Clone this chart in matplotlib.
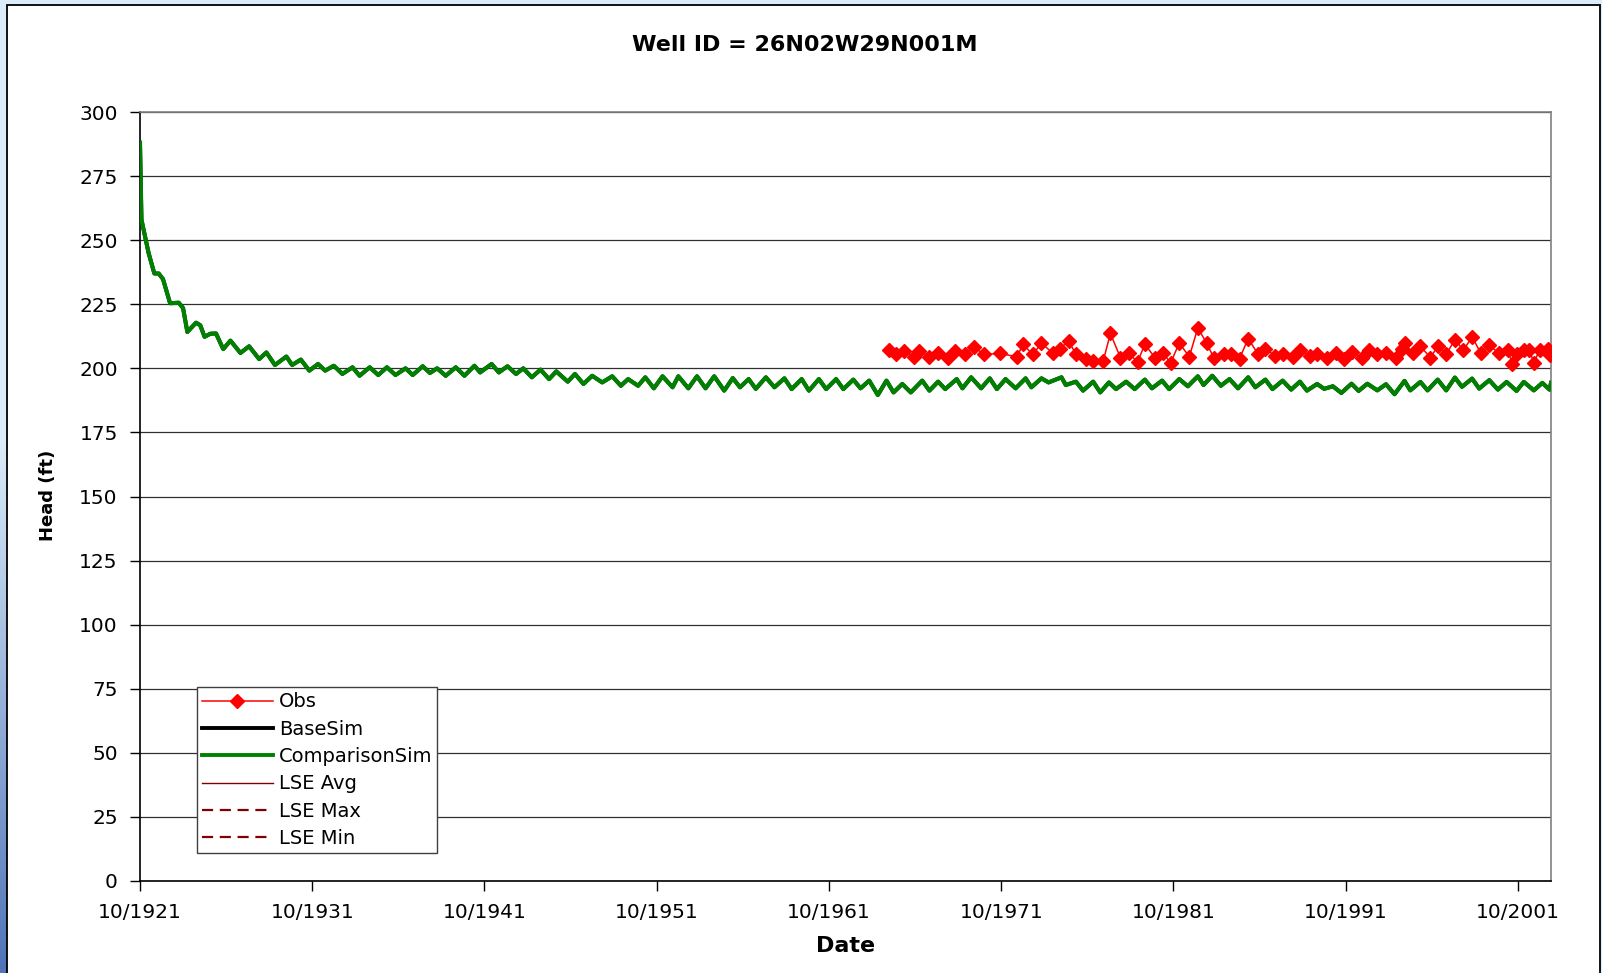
import numpy as np
import pandas as pd
import matplotlib
matplotlib.use("Agg")
import matplotlib.pyplot as plt
from matplotlib.patches import Rectangle
from matplotlib.lines import Line2D
from matplotlib.colors import LinearSegmentedColormap

# simulated head, read as seasonal highs / lows off the chart
sim_dates = [
    "1921-10", "1921-11", "1922-02", "1922-04", "1922-08", "1922-11", "1923-02", "1923-07",
    "1924-01", "1924-04", "1924-07", "1925-01", "1925-04", "1925-07", "1925-11", "1926-03",
    "1926-08", "1927-01", "1927-08", "1928-02", "1928-09", "1929-02", "1929-08", "1930-04",
    "1930-08", "1931-02", "1931-08", "1932-02", "1932-07", "1933-01", "1933-07", "1934-02",
    "1934-07", "1935-02", "1935-08", "1936-02", "1936-08", "1937-03", "1937-08", "1938-03",
    "1938-08", "1939-01", "1939-07", "1940-02", "1940-08", "1941-03", "1941-07", "1942-03",
    "1942-08", "1943-02", "1943-08", "1944-01", "1944-07", "1945-01", "1945-07", "1945-12",
    "1946-08", "1947-01", "1947-07", "1948-01", "1948-08", "1949-03", "1949-09", "1950-02",
    "1950-09", "1951-02", "1951-08", "1952-02", "1952-09", "1953-01", "1953-08", "1954-02",
    "1954-08", "1955-02", "1955-09", "1956-03", "1956-08", "1957-02", "1957-07", "1958-02",
    "1958-08", "1959-03", "1959-08", "1960-03", "1960-08", "1961-03", "1961-08", "1962-03",
    "1962-08", "1963-03", "1963-08", "1964-02", "1964-08", "1965-02", "1965-07", "1966-01",
    "1966-07", "1967-03", "1967-08", "1968-02", "1968-07", "1969-03", "1969-07", "1970-01",
    "1970-08", "1971-02", "1971-07", "1972-01", "1972-08", "1973-03", "1973-07", "1974-02",
    "1974-07", "1975-04", "1975-07", "1976-02", "1976-07", "1977-02", "1977-07", "1978-01",
    "1978-06", "1979-01", "1979-07", "1980-02", "1980-07", "1981-02", "1981-07", "1982-02",
    "1982-08", "1983-03", "1983-07", "1984-01", "1984-07", "1985-01", "1985-07", "1986-02",
    "1986-07", "1987-02", "1987-07", "1988-02", "1988-08", "1989-02", "1989-07", "1990-02",
    "1990-07", "1991-01", "1991-07", "1992-02", "1992-07", "1993-01", "1993-08", "1994-02",
    "1994-08", "1995-03", "1995-07", "1996-02", "1996-07", "1997-02", "1997-08", "1998-02",
    "1998-07", "1999-02", "1999-07", "2000-02", "2000-08", "2001-02", "2001-09", "2002-02",
    "2002-09", "2003-03", "2003-08", "2003-09",
]
comp_head = [
    288.0, 258.0, 250.0, 245.0, 237.0, 237.0, 234.8, 225.4,
    225.6, 223.5, 214.2, 217.8, 216.8, 212.3, 213.5, 213.6,
    207.5, 210.8, 206.0, 208.6, 203.6, 206.2, 201.3, 204.6,
    201.3, 203.4, 199.1, 201.7, 199.1, 201.0, 197.8, 200.4,
    197.1, 200.4, 197.4, 200.4, 197.4, 200.0, 197.4, 200.8,
    198.2, 200.0, 197.1, 200.4, 197.1, 201.0, 198.4, 201.7,
    198.4, 200.8, 197.8, 200.0, 196.5, 199.5, 195.8, 198.8,
    194.8, 197.8, 193.9, 197.1, 194.5, 196.9, 193.2, 195.8,
    193.2, 196.5, 192.2, 196.9, 192.6, 196.9, 192.2, 196.9,
    192.2, 196.9, 191.3, 196.2, 192.6, 195.8, 192.0, 196.5,
    192.6, 196.1, 191.9, 195.8, 191.3, 195.8, 191.9, 195.8,
    191.9, 195.6, 192.2, 195.2, 189.6, 195.2, 190.6, 193.9,
    190.6, 195.2, 191.3, 194.8, 191.9, 195.8, 192.2, 196.5,
    192.2, 196.1, 191.9, 195.8, 192.2, 196.1, 192.6, 196.1,
    194.5, 196.5, 193.5, 194.8, 191.3, 194.8, 190.6, 194.5,
    191.9, 194.8, 191.9, 195.6, 192.2, 195.2, 191.9, 195.8,
    193.0, 196.9, 193.5, 197.1, 193.2, 195.8, 192.2, 196.5,
    192.6, 195.6, 191.9, 195.2, 191.7, 194.8, 191.3, 193.9,
    192.0, 193.0, 190.4, 194.0, 191.2, 194.0, 191.4, 193.8,
    189.9, 195.1, 191.4, 194.7, 191.4, 195.6, 191.4, 196.4,
    192.8, 196.0, 192.1, 195.4, 191.7, 194.7, 191.2, 194.7,
    191.4, 194.3, 191.7, 194.3,
]
# base run sits right under the comparison run on this well
base_head = comp_head

obs_dates = [
    "1965-04", "1965-09", "1966-02", "1966-09", "1967-01", "1967-08", "1968-02", "1968-09",
    "1969-02", "1969-09", "1970-03", "1970-10", "1971-09", "1972-09", "1973-01", "1973-08",
    "1974-02", "1974-10", "1975-03", "1975-09", "1976-02", "1976-09", "1977-02", "1977-09",
    "1978-02", "1978-09", "1979-03", "1979-09", "1980-02", "1980-09", "1981-03", "1981-08",
    "1982-02", "1982-09", "1983-03", "1983-09", "1984-02", "1984-09", "1985-02", "1985-08",
    "1986-02", "1986-09", "1987-02", "1987-09", "1988-02", "1988-09", "1989-02", "1989-09",
    "1990-02", "1990-09", "1991-03", "1991-09", "1992-02", "1992-09", "1993-02", "1993-08",
    "1994-02", "1994-09", "1995-01", "1995-03", "1995-09", "1996-02", "1996-09", "1997-02",
    "1997-08", "1998-02", "1998-08", "1999-02", "1999-08", "2000-02", "2000-09", "2001-03",
    "2001-06", "2001-09", "2002-02", "2002-06", "2002-09", "2003-01", "2003-07", "2003-08",
]
obs_head = [
    207.3, 205.5, 206.8, 204.5, 206.8, 204.5, 205.8, 204.1,
    206.8, 205.4, 208.4, 205.4, 205.8, 204.5, 209.4, 205.4,
    209.9, 205.8, 207.7, 210.7, 205.4, 203.8, 202.8, 202.8,
    213.6, 204.2, 205.8, 202.5, 209.4, 204.2, 205.8, 202.1,
    209.9, 204.5, 215.8, 209.9, 204.2, 205.5, 205.5, 203.8,
    211.6, 205.5, 207.7, 204.7, 205.5, 204.5, 207.3, 204.9,
    205.5, 204.2, 206.0, 203.8, 206.4, 204.2, 207.1, 205.5,
    206.0, 204.2, 207.7, 209.9, 205.8, 208.6, 204.2, 208.6,
    205.5, 211.2, 207.1, 212.3, 206.0, 209.0, 205.8, 207.3,
    201.6, 205.5, 207.1, 207.1, 202.1, 207.1, 207.7, 205.1,
]

tick_years = [1921, 1931, 1941, 1951, 1961, 1971, 1981, 1991, 2001]
y_ticks = [0, 25, 50, 75, 100, 125, 150, 175, 200, 225, 250, 275, 300]

W, H = 1602, 973
plt.rcParams['font.family'] = ['DejaVu Sans']

fig = plt.figure(figsize=(W / 100, H / 100), dpi=100, facecolor='#dcedf9')

# slide-like blue strip on the left edge
strip = fig.add_axes([0, 0, 7 / W, 1], zorder=-3)
grad = np.ones((200, 1))
grad[:, 0] = np.clip((np.linspace(0, 1, 200) - 0.45) / 0.55, 0, 1)
cmap = LinearSegmentedColormap.from_list('bl', ['#dcedf9', '#4f74b8'])
strip.imshow(grad, aspect='auto', cmap=cmap, extent=[0, 1, 0, 1])
strip.axis('off')

# white chart area with black border
fig.add_artist(Rectangle((7 / W, -0.05), 1593 / W, 1.05 - 5 / H, transform=fig.transFigure,
                         facecolor='white', edgecolor='black', lw=1.3, zorder=-2))

ax = fig.add_axes([140 / W, 1 - 881 / H, 1411 / W, 769 / H])
ax.set_facecolor('white')

sim_x = pd.to_datetime(sim_dates)
obs_x = pd.to_datetime(obs_dates)

ax.plot(sim_x, base_head, color='black', lw=2.8, zorder=3)
ax.plot(sim_x, comp_head, color='#008000', lw=3.0, zorder=4)
ax.plot(obs_x, obs_head, color='#ff0000', lw=1.1, marker='D', ms=7, mec='#ff0000', zorder=5)

ax.set_xlim(pd.Timestamp('1921-10-01'), pd.Timestamp('2003-09-01'))
ax.set_ylim(0, 300)
ax.set_yticks(y_ticks)
ax.set_xticks([pd.Timestamp(f'{y}-10-01') for y in tick_years])
ax.set_xticklabels([f'10/{y}' for y in tick_years])
ax.yaxis.grid(True, color='#303030', lw=0.9)
ax.set_axisbelow(True)

for s in ['top', 'right']:
    ax.spines[s].set_color('#808080')
    ax.spines[s].set_linewidth(1.2)
for s in ['left', 'bottom']:
    ax.spines[s].set_color('black')
    ax.spines[s].set_linewidth(1.2)
ax.tick_params(axis='both', direction='out', length=7, width=1, color='black', labelsize=14.5)
ax.tick_params(axis='y', pad=9)
ax.tick_params(axis='x', pad=9)

handles = [
    Line2D([], [], color='#ff0000', lw=1.1, marker='D', ms=7),
    Line2D([], [], color='black', lw=2.8),
    Line2D([], [], color='#008000', lw=2.8),
    Line2D([], [], color='#800000', lw=1),
    Line2D([], [], color='#800000', lw=1.6, dashes=(5, 3)),
    Line2D([], [], color='#800000', lw=1.6, dashes=(5, 3)),
]
labels = ['Obs', 'BaseSim', 'ComparisonSim', 'LSE Avg', 'LSE Max', 'LSE Min']
leg = ax.legend(handles, labels, loc='lower left', bbox_to_anchor=(57 / 1411, 28 / 769),
                borderaxespad=0, fontsize=14, handlelength=3.66, handletextpad=0.3,
                labelspacing=0.43, borderpad=0.25, numpoints=1, fancybox=False,
                framealpha=1, edgecolor='#404040')
leg.get_frame().set_linewidth(1.0)

fig.text(805 / W, 1 - 45 / H, 'Well ID = 26N02W29N001M', ha='center', va='center',
         fontsize=16, fontweight='bold')
fig.text(846 / W, 1 - 946 / H, 'Date', ha='center', va='center', fontsize=16, fontweight='bold')
fig.text(48 / W, 1 - 495 / H, 'Head (ft)', ha='center', va='center', rotation=90,
         fontsize=13, fontweight='bold')

fig.savefig('out.png', dpi=100, facecolor=fig.get_facecolor())
